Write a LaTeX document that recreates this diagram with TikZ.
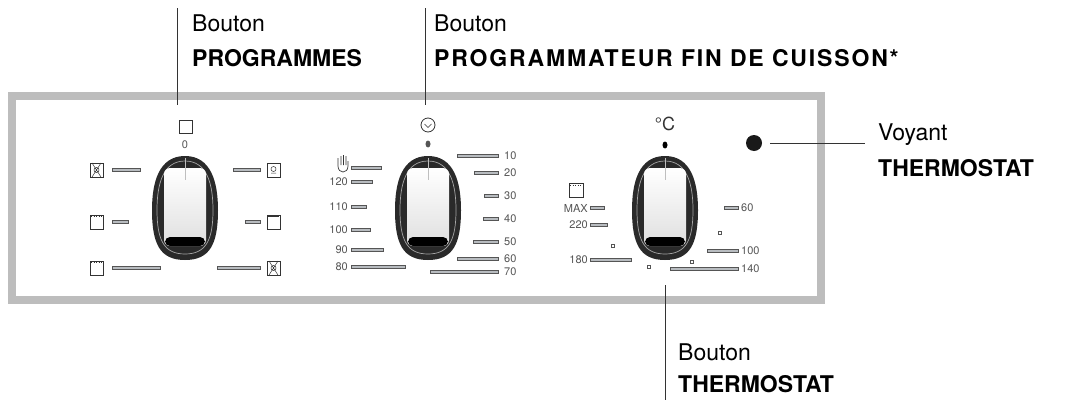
\documentclass[tikz,border=0pt]{standalone}
\usepackage{fontspec}
\setmainfont{TeX Gyre Heros}
\usepackage{tikz}
\usetikzlibrary{positioning}

\definecolor{framegray}{HTML}{BDBDBD}
\definecolor{bargray}{HTML}{B8BCC0}
\definecolor{numgray}{HTML}{555555}
\definecolor{knobdark}{HTML}{2A2A2A}

\tikzset{
  bar/.style={draw=numgray,fill=bargray,line width=0.6pt},
  num/.style={font=\fontsize{11}{13}\selectfont,text=numgray,inner sep=1pt},
  icon/.style={draw=black!80,line width=0.8pt},
  callout/.style={draw=black!80,line width=1pt},
  lbl/.style={font=\fontsize{23}{27}\selectfont,anchor=west,inner sep=0pt},
  blbl/.style={lbl,font=\fontsize{23}{27}\selectfont\bfseries},
}

% knob at given centre
\newcommand{\ovenknob}[2]{%
  \begin{scope}[shift={(#1,#2)}]
    \fill[knobdark] (0,-54) .. controls (26,-54) and (33,-28) .. (33,0)
      .. controls (33,34) and (25,50) .. (0,50)
      .. controls (-25,50) and (-33,34) .. (-33,0)
      .. controls (-33,-28) and (-26,-54) .. (0,-54) -- cycle;
    \draw[gray!70,line width=0.7pt] (0,-49) .. controls (22,-49) and (28,-26) .. (28,0)
      .. controls (28,30) and (21,44) .. (0,44)
      .. controls (-21,44) and (-28,30) .. (-28,0)
      .. controls (-28,-26) and (-22,-49) .. (0,-49) -- cycle;
    \shade[top color=white,bottom color=gray!25,rounded corners=6pt] (-21,-42) rectangle (21,36);
    \fill[black,rounded corners=5pt] (-20,27) rectangle (20,36);
    \draw[gray!50,line width=0.8pt] (0,-52) -- (0,-30);
  \end{scope}}

\begin{document}
\begin{tikzpicture}[x=1pt,y=-1pt]
\useasboundingbox (0,0) rectangle (1081,407);

% panel frame
\draw[framegray,line width=8pt] (12,96) rectangle (821,300);

% knobs
\ovenknob{185}{210}
\ovenknob{428}{210}
\ovenknob{665}{210}

% ---- left knob (programmes)
\draw[icon] (179,120) rectangle (192,133);
\node[num] (zero) at (185,145) {0};
\foreach \ya/\xa in {170/140,222/128,268/160} \draw[bar] (112,\ya-1.5) rectangle (\xa,\ya+1.5);
\foreach \ya/\xa in {170/233,222/245,268/217} \draw[bar] (\xa,\ya-1.5) rectangle (260,\ya+1.5);
\foreach \ya in {170,222,268} \draw[icon,line width=0.6pt] (90,\ya-7) rectangle (103,\ya+7);
\foreach \ya in {170,222,268} \draw[icon,line width=0.6pt] (267,\ya-7) rectangle (280,\ya+7);
\draw[icon,line width=0.5pt] (92,163) -- (101,177) (101,163) -- (92,177) (96.5,170) circle (2.5);
\draw[icon,line width=0.5pt] (269,261) -- (278,275) (278,261) -- (269,275) (273.5,268) circle (2.5);
\draw[icon,line width=0.5pt] (273.5,169) circle (2.5) (271,173) -- (276,173);
\draw[icon,line width=1.5pt] (268,216) -- (279,216);
\draw[icon,line width=0.5pt,dotted] (91,216) -- (102,216) (91,262) -- (102,262);

% ---- middle knob (programmateur)
\draw[icon] (428,125) circle (7);
\draw[icon,line width=0.6pt] (424.5,124) -- (428,127.5) -- (431.5,124);
\fill[numgray] (428,144) ellipse (2.5 and 3.5);
\draw[icon,line width=0.7pt] (338,158) -- (338,166) .. controls (338,174) and (348,174) .. (348,166) -- (348,161)
  (341,156) -- (341,165) (343.5,155) -- (343.5,165) (346,156) -- (346,165);
\foreach \ya/\xa in {168/381,182/372,207/366,230/370,250/383,267/405} \draw[bar] (351,\ya-1.5) rectangle (\xa,\ya+1.5);
\foreach \ya/\t in {182/120,207/110,230/100,250/90,267/80} \node[num,anchor=east] (m\t) at (349,\ya) {\t};
\foreach \ya/\xa/\t in {156/457/10,173/474/20,196/484/30,219/483/40,242/473/50,259/457/60,272/430/70} {
  \draw[bar] (\xa,\ya-1.5) rectangle (498,\ya+1.5);
  \node[num,anchor=west] (p\t) at (503,\ya) {\t};
}

% ---- right knob (thermostat)
\node[font=\fontsize{18}{20}\selectfont,inner sep=0pt,text=black!80] (degc) at (665,124) {°C};
\fill[black] (665,145) ellipse (2.5 and 3.5);
\draw[icon] (569,183) rectangle (583,197);
\draw[icon,line width=0.5pt,dotted] (570,185) -- (582,185);
\foreach \ya/\xa in {208/604,225/607,260/631} \draw[bar] (590,\ya-1.5) rectangle (\xa,\ya+1.5);
\foreach \ya/\t in {208/MAX,225/220,260/180} \node[num,anchor=east] (t\t) at (589,\ya) {\t};
\foreach \ya/\xa/\t in {208/724/60,251/707/100,269/670/140} {
  \draw[bar] (\xa,\ya-1.5) rectangle (738,\ya+1.5);
  \node[num,anchor=west] (q\t) at (740,\ya) {\t};
}
\foreach \xa/\ya in {613/246,649/267,692/262,720/233} \draw[numgray,line width=0.6pt] (\xa-1.5,\ya-1.5) rectangle (\xa+1.5,\ya+1.5);

% voyant
\fill[black!90] (754,143) circle (8);
\node[circle,inner sep=0pt,minimum size=16pt] (lamp) at (754,143) {};

% ---- callouts
\coordinate (prgtop) at (177,8);   \coordinate (prgend) at (177,105);
\coordinate (fintop) at (425,8);   \coordinate (finend) at (425,105);
\coordinate (thbot) at (665,400);  \coordinate (thend) at (665,285);
\coordinate (lampend) at (865,143);
\draw[callout] (prgtop) -- (prgend);
\draw[callout] (fintop) -- (finend);
\draw[callout] (thend) -- (thbot);
\draw[callout] ([xshift=16pt]lamp.center) -- (lampend);

\node[lbl] (bprg) at (192,23) {Bouton};
\node[blbl] (nprg) at (192,58) {PROGRAMMES};
\node[blbl,font=\fontsize{23}{27}\selectfont\bfseries\addfontfeatures{LetterSpace=8}] (nfin) at (434,58) {PROGRAMMATEUR FIN DE CUISSON*};
\node[lbl] (bfin) at (434,23) {Bouton};
\node[lbl] (bvoy) at (878,135) {Voyant};
\node[blbl] (nvoy) at (878,168) {THERMOSTAT};
\node[lbl] (bth) at (678,352) {Bouton};
\node[blbl] (nth) at (678,384) {THERMOSTAT};
\end{tikzpicture}
\end{document}
